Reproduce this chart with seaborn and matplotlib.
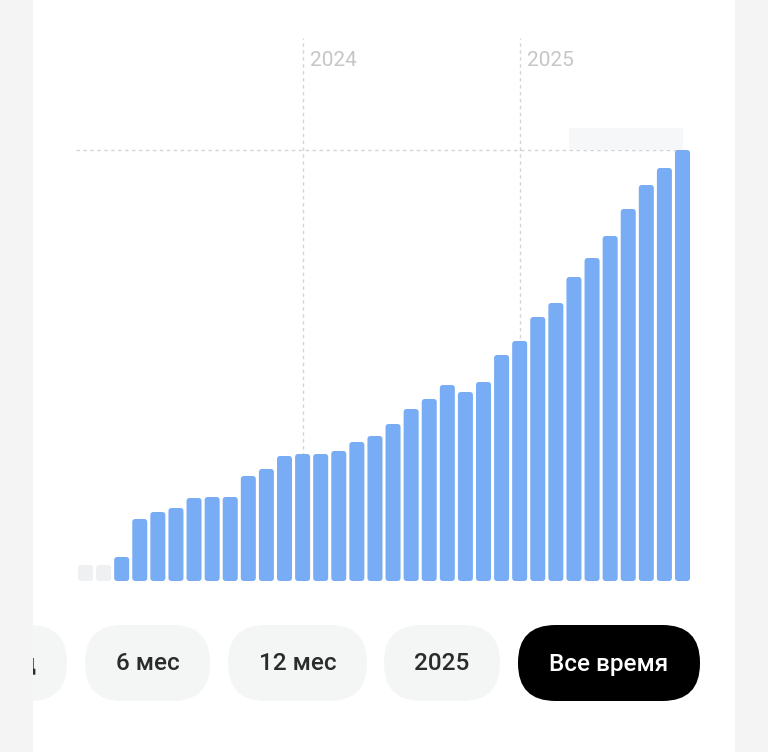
import pandas as pd
import matplotlib.pyplot as plt
import seaborn as sns
from matplotlib.patches import FancyBboxPatch, Rectangle

# monthly values (Jan 2023 .. Oct 2025), first two months empty
values = [0, 0, 24, 62, 69, 73, 83, 84, 84, 105, 112, 125, 127, 127, 130, 139, 145,
          157, 172, 182, 196, 189, 199, 226, 240, 264, 278, 304, 323, 345, 372, 396, 413, 431]
start_month = "2023-01"
year_marks = ["2024", "2025"]
buttons = ["Месяц", "6 мес", "12 мес", "2025", "Все время"]
active_button = "Все время"

months = pd.period_range(start_month, periods=len(values), freq="M").astype(str)
stub = max(values) * 0.037  # placeholder height for empty months
df = pd.DataFrame({
    "month": months,
    "value": values,
})
df["height"] = df["value"].where(df["value"] > 0, stub)
df["kind"] = ["filled" if v > 0 else "empty" for v in values]

sns.set_theme(style="white")
plt.rcParams["font.family"] = ["Roboto", "DejaVu Sans"]

W, H = 768, 752
fig = plt.figure(figsize=(W / 100, H / 100), dpi=100, facecolor="#f4f4f4")

# white card + buttons row (pixel coordinates)
card_l, card_r = 33, 735
ui = fig.add_axes([card_l / W, 0, (card_r - card_l) / W, 1])
ui.set_xlim(card_l, card_r)
ui.set_ylim(H, 0)
ui.set_facecolor("white")
ui.set_xticks([])
ui.set_yticks([])
for s in ui.spines.values():
    s.set_visible(False)

pill_x = [(-70, 67), (85, 210), (228, 367), (384, 500), (518, 700)]
pill_top, pill_bot = 625, 701
for label, (x0, x1) in zip(buttons, pill_x):
    active = label == active_button
    h = pill_bot - pill_top
    ui.add_patch(FancyBboxPatch((x0, pill_top), x1 - x0, h,
                                boxstyle=f"round,pad=0,rounding_size={h / 2 - 0.5}",
                                fc="black" if active else "#f4f6f6", ec="none"))
    ui.text((x0 + x1) / 2, (pill_top + pill_bot) / 2 + 1, label,
            ha="center", va="center", fontsize=17.5,
            color="white" if active else "#2b2b2b",
            fontweight="medium", clip_on=True)

# chart area
ax = fig.add_axes([76.45 / W, (H - 581) / H, 615.1 / W, (581 - 38) / H])
ax.patch.set_alpha(0)
sns.barplot(data=df, x="month", y="height", hue="kind",
            palette={"filled": "#78acf5", "empty": "#eef0f1"},
            hue_order=["filled", "empty"], dodge=False, width=0.83,
            saturation=1, legend=False, ax=ax, zorder=3)
ax.set_xlim(-0.5, len(values) - 0.5)
ax.set_ylim(0, max(values) * 543 / 431)
ax.set_xlabel("")
ax.set_ylabel("")
ax.set_xticks([])
ax.set_yticks([])
for s in ax.spines.values():
    s.set_visible(False)

# round bar corners
fig.canvas.draw()
bb = ax.get_window_extent()
px_x = bb.width / (ax.get_xlim()[1] - ax.get_xlim()[0])
px_y = bb.height / (ax.get_ylim()[1] - ax.get_ylim()[0])
r = 3.2 / px_x
for p in list(ax.patches):
    x, y = p.get_x(), p.get_y()
    w, h = p.get_width(), p.get_height()
    if h <= 0:
        continue
    ax.add_patch(FancyBboxPatch((x, y), w, h,
                                boxstyle=f"round,pad=0,rounding_size={r}",
                                mutation_aspect=px_x / px_y,
                                fc=p.get_facecolor(), ec="none", zorder=3))
    p.remove()

grid_c = "#d4d4d4"
dash = (0, (2.5, 2.5))
top = ax.get_ylim()[1]
months_list = list(months)
for yr in year_marks:
    i = months_list.index(f"{yr}-01")
    ax.plot([i, i], [0, top], color=grid_c, lw=1, ls=dash, zorder=1)
    ax.text(i + 0.42, (581 - 66) / 543, yr, transform=ax.get_xaxis_transform(),
            fontsize=15, color="#c6c6c6", ha="left", va="baseline")

# max line + (empty) value tag
vmax = max(values)
ax.plot([-0.5, len(values) - 0.9], [vmax, vmax], color=grid_c, lw=1, ls=dash, zorder=1)
ax.add_patch(Rectangle((len(values) - 7.3, vmax), 6.3, 22 / px_y,
                       fc="#f6f7f8", ec="none", zorder=2))

fig.savefig("out.png", dpi=100, facecolor=fig.get_facecolor())
